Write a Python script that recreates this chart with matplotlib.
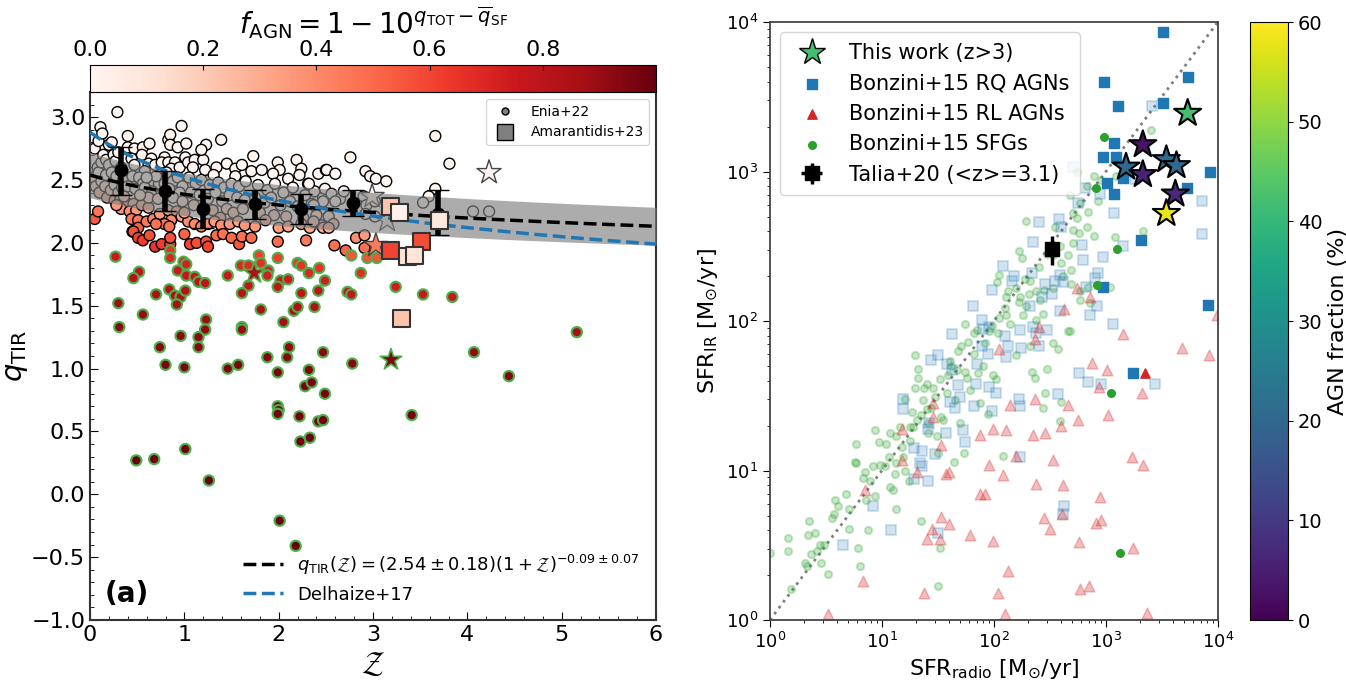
import numpy as np
import matplotlib.pyplot as plt
from matplotlib.lines import Line2D
from matplotlib.ticker import AutoMinorLocator, FuncFormatter

# ---------------- left panel: q_TIR vs redshift ----------------
# Enia+22 sources (redshift, q_TIR)
enia_z = [
    0.03, 0.05, 0.06, 0.08, 0.09, 0.09, 0.10, 0.11, 0.12, 0.12,
    0.13, 0.14, 0.16, 0.17, 0.17, 0.18, 0.20, 0.20, 0.22, 0.23,
    0.23, 0.25, 0.26, 0.26, 0.27, 0.28, 0.29, 0.30, 0.30, 0.33,
    0.35, 0.34,
    0.05, 0.085, 0.32, 0.37, 0.40, 0.46, 0.33, 0.42, 0.49, 0.44,
    0.51, 0.47, 0.45, 0.51, 0.60, 0.67, 0.74, 0.83, 0.92, 0.97,
    0.86, 0.79, 0.70, 0.84, 0.28, 0.36, 0.55, 0.62,
    0.40, 0.47, 0.56, 0.63, 0.40, 0.55, 0.44, 0.47, 0.65, 0.62,
    0.69, 0.58, 0.79, 0.76, 0.83, 0.90, 0.86, 0.81, 0.95, 0.83,
    0.85, 0.85, 0.93, 0.97, 0.45, 0.52, 0.56, 0.68, 0.73, 0.79,
    0.88, 0.93, 0.98, 0.40, 0.48, 0.58, 0.66, 0.76, 0.84, 0.95,
    0.62, 0.72, 0.88, 0.53, 0.98, 0.70, 0.60,
    1.01, 1.04, 1.11, 1.09, 1.02, 1.20, 1.22, 1.23, 1.18, 1.34,
    1.31, 1.39, 1.45, 1.54, 1.61, 1.54, 1.05, 1.12, 1.18, 1.27,
    1.36, 1.42, 1.50, 1.58, 1.65, 1.07, 1.16, 1.25, 1.33, 1.40,
    1.48, 1.56, 1.64, 1.10, 1.20, 1.30, 1.45, 1.52, 1.62, 1.38,
    1.04, 1.11, 1.18, 1.25, 1.32, 1.39, 1.48, 1.57, 1.64, 1.00,
    1.73, 1.71, 1.82, 1.99, 2.01, 1.94, 2.19, 2.24, 2.22, 2.10,
    2.31, 2.42, 2.50, 1.78, 1.88, 1.96, 2.05, 2.15, 2.28, 2.38,
    2.47, 1.75, 1.85, 1.92, 2.02, 2.12, 2.20, 2.35, 2.45, 1.80,
    1.95, 2.08, 2.26, 2.40, 1.75, 2.00, 2.10, 2.24, 2.33, 2.45,
    1.86,
    0.46, 0.51, 0.56, 0.63, 0.69, 0.76, 0.85, 0.85, 1.00, 1.06,
    1.13, 1.23, 1.25, 1.34, 1.41, 1.50, 1.58, 1.61, 1.71, 1.99,
    2.29, 2.59, 2.71, 2.82, 2.91, 2.91,
    2.76, 2.51, 2.60, 2.92, 2.97, 3.03, 3.14, 3.66, 3.81, 3.66,
    3.59, 3.53, 4.06, 4.23, 2.32, 2.49, 2.56, 2.65, 2.69, 2.60,
    2.47, 2.37, 2.90, 2.93, 3.02, 2.92, 2.53, 2.58, 2.47, 2.53,
    2.37, 3.02,
]
enia_q = [
    2.52, 2.75, 2.45, 2.60, 2.56, 2.81, 2.40, 2.92, 2.49, 2.64,
    2.87, 2.70, 2.45, 2.54, 2.66, 2.36, 2.62, 2.78, 2.42, 2.56,
    2.80, 2.70, 2.34, 2.46, 2.65, 2.53, 3.04, 2.40, 2.72, 2.60,
    2.50, 2.44,
    2.19, 2.25, 2.34, 2.33, 2.30, 2.31, 2.27, 2.25, 2.26, 2.19,
    2.18, 2.10, 2.09, 2.12, 2.17, 2.19, 2.23, 2.26, 2.25, 2.21,
    2.18, 2.15, 2.15, 2.13, 2.30, 2.37, 2.30, 2.28,
    2.76, 2.75, 2.76, 2.79, 2.85, 2.70, 2.67, 2.62, 2.67, 2.63,
    2.62, 2.57, 2.68, 2.64, 2.64, 2.64, 2.59, 2.56, 2.60, 2.82,
    2.86, 2.78, 2.76, 2.93, 2.53, 2.52, 2.47, 2.48, 2.47, 2.47,
    2.49, 2.52, 2.45, 2.45, 2.43, 2.44, 2.41, 2.39, 2.43, 2.40,
    2.36, 2.35, 2.36, 2.38, 2.33, 2.53, 2.52,
    2.68, 2.64, 2.66, 2.60, 2.79, 2.66, 2.58, 2.78, 2.74, 2.60,
    2.54, 2.82, 2.63, 2.59, 2.62, 2.53, 2.52, 2.47, 2.50, 2.46,
    2.48, 2.44, 2.47, 2.45, 2.49, 2.40, 2.38, 2.35, 2.40, 2.33,
    2.38, 2.36, 2.34, 2.30, 2.28, 2.26, 2.27, 2.24, 2.27, 2.20,
    2.17, 2.15, 2.13, 2.15, 2.17, 2.14, 2.15, 2.17, 2.14, 2.24,
    2.69, 2.57, 2.58, 2.64, 2.58, 2.55, 2.66, 2.59, 2.54, 2.51,
    2.47, 2.55, 2.58, 2.46, 2.42, 2.47, 2.40, 2.44, 2.38, 2.41,
    2.36, 2.36, 2.32, 2.36, 2.30, 2.33, 2.29, 2.31, 2.27, 2.24,
    2.22, 2.21, 2.20, 2.22, 2.13, 2.12, 2.13, 2.15, 2.12, 2.14,
    2.18,
    2.09, 2.04, 2.02, 2.06, 1.97, 1.99, 1.99, 2.04, 2.07, 1.99,
    2.00, 2.01, 1.97, 2.06, 2.07, 2.04, 1.99, 2.05, 2.04, 2.01,
    2.02, 1.98, 1.94, 2.04, 2.06, 1.96,
    2.68, 2.58, 2.55, 2.57, 2.53, 2.51, 2.49, 2.85, 2.63, 2.43,
    2.37, 2.32, 2.25, 2.25, 2.47, 2.43, 2.39, 2.35, 2.41, 2.33,
    2.33, 2.30, 2.37, 2.30, 2.21, 2.23, 2.21, 2.15, 2.12, 2.12,
    2.17, 2.33,
]

# radio-excess Enia+22 sources (green edges)
rex_z = [
    0.27, 0.85, 0.85, 0.52, 0.46, 0.99, 1.02, 0.93, 1.02, 1.11,
    1.15, 1.22, 1.46, 1.60, 1.68, 1.79, 1.81, 1.89, 1.88, 1.99,
    1.68, 1.61, 2.02, 2.10, 1.99, 2.20, 2.24, 2.32, 2.43, 2.49,
    2.24, 2.42, 2.73, 2.77, 2.87, 2.77, 2.94, 3.04, 0.84, 0.90,
    0.96, 1.01, 0.70, 0.30, 0.92, 0.56, 0.31, 1.23, 1.22, 1.15,
    0.96, 1.61, 1.61, 1.81, 2.05, 2.16, 2.20, 2.38, 0.74, 1.15,
    0.80, 1.00, 1.46, 1.57, 1.88, 1.99, 2.09, 2.11, 2.32, 2.47,
    2.78,
    3.24, 3.53, 3.84, 5.16, 4.07, 4.44, 3.41, 0.49, 0.68, 1.01,
    1.26, 1.99, 2.00, 1.99, 2.22, 2.42, 2.47, 2.23, 2.33, 2.49,
    2.28, 2.35, 2.01, 2.18,
]
rex_q = [
    1.89, 1.94, 1.88, 1.77, 1.72, 1.85, 1.83, 1.78, 1.74, 1.73,
    1.69, 1.68, 1.74, 1.82, 1.82, 1.90, 1.84, 1.78, 1.74, 1.88,
    1.66, 1.60, 1.70, 1.71, 1.65, 1.84, 1.82, 1.76, 1.80, 1.70,
    1.60, 1.62, 1.61, 1.59, 1.76, 1.90, 1.88, 1.88, 1.63, 1.58,
    1.57, 1.62, 1.59, 1.52, 1.51, 1.43, 1.33, 1.39, 1.31, 1.25,
    1.26, 1.33, 1.31, 1.47, 1.37, 1.46, 1.49, 1.49, 1.17, 1.17,
    1.03, 1.01, 1.00, 1.03, 1.09, 0.97, 1.09, 1.17, 0.99, 1.13,
    1.04,
    1.65, 1.59, 1.57, 1.29, 1.13, 0.94, 0.63, 0.27, 0.28, 0.36,
    0.11, 0.70, 0.67, 0.64, 0.62, 0.58, 0.59, 0.42, 0.45, 0.80,
    0.86, 0.89, -0.21, -0.41,
]

# binned medians
bin_z = [0.33, 0.79, 1.20, 1.75, 2.24, 2.79, 3.69]
bin_q = [2.58, 2.41, 2.27, 2.31, 2.27, 2.32, 2.23]
bin_lo = [0.20, 0.16, 0.15, 0.12, 0.12, 0.11, 0.17]
bin_hi = [0.18, 0.16, 0.16, 0.11, 0.12, 0.10, 0.19]

# Amarantidis+23
amar_z = [3.19, 3.28, 3.70, 3.18, 3.51, 3.37, 3.44, 3.30]
amar_q = [2.29, 2.24, 2.18, 1.94, 2.01, 1.89, 1.90, 1.40]
amar_f = [0.22, 0.03, 0.08, 0.60, 0.58, 0.10, 0.10, 0.22]

# this work (stars) on the left panel
star_z = [4.23, 2.99, 3.15, 3.03]
star_q = [2.56, 2.37, 2.18, 1.98]
star_f = [0.0, 0.0, 0.05, 0.45]
star_rex_z = [1.74, 3.19]
star_rex_q = [1.76, 1.07]
star_rex_f = [0.85, 0.95]

# ---------------- right panel: SFR_IR vs SFR_radio (log10) ----------------
star_lx = [3.73, 3.33, 3.18, 3.33, 3.54, 3.63, 3.62, 3.54]
star_ly = [3.39, 3.18, 3.03, 2.98, 3.08, 3.04, 2.85, 2.72]
star_agn = [42, 3, 20, 6, 20, 20, 7, 58]

rq_lx = [3.51, 2.98, 3.73, 3.11, 3.51, 3.07, 2.97, 3.09, 3.01, 3.07,
         3.15, 3.72, 3.93, 3.31, 2.97, 3.91, 3.24]
rq_ly = [3.93, 3.60, 3.63, 3.44, 3.46, 3.19, 3.10, 3.10, 2.92, 2.85,
         2.96, 2.89, 3.00, 2.54, 2.23, 2.11, 1.65]
rl_lx = [3.35]
rl_ly = [1.65]
sfg_lx = [2.98, 2.91, 3.10, 2.92, 3.05, 3.13]
sfg_ly = [3.23, 2.89, 2.48, 2.24, 1.52, 0.45]

sfg_faint_lx = [
    0.00, 0.16, 0.16, 0.19, 0.33, 0.34, 0.35, 0.31, 0.40, 0.37,
    0.42, 0.45, 0.46, 0.48, 0.52, 0.55, 0.57, 0.58, 0.61, 0.68,
    0.71, 0.71, 0.79, 0.80, 0.77, 0.77, 0.76, 0.83, 0.85, 0.86,
    0.88, 0.89, 0.92, 0.94, 0.94, 0.97, 0.98, 1.03, 1.04, 1.07,
    1.06, 1.07, 1.10, 1.12, 1.13, 1.13, 1.16, 1.18, 1.21, 1.19,
    1.21, 1.24, 1.25, 1.25, 1.27, 1.30, 1.30, 1.28, 1.31, 1.32,
    1.32, 1.35, 1.35, 1.37, 1.38, 1.40, 1.40, 1.41, 1.41, 1.44,
    1.46, 1.47, 1.49, 1.50, 1.52, 1.52, 1.53, 1.55, 1.58, 1.59,
    1.61, 1.62, 1.64, 1.65, 1.67, 1.68, 1.70, 1.71, 1.73, 1.74,
    1.74, 1.76, 1.77, 1.79, 1.82, 1.82, 1.85, 1.86, 1.88, 1.90,
    1.92, 1.95, 1.96, 1.98, 1.99, 2.02, 2.04, 2.05, 2.08, 2.10,
    2.11, 2.14, 2.20, 2.22, 2.26, 2.29, 2.32, 2.34, 2.37, 2.38,
    2.41, 2.44, 2.44, 2.46, 2.47, 2.53, 2.57, 2.60, 2.59, 2.66,
    1.50, 1.13,
    2.29, 2.55, 2.71, 2.77, 2.93, 2.84, 2.22, 2.25, 2.47, 2.53,
    2.60, 2.69, 2.71, 2.76, 2.83, 2.89, 2.71, 2.74, 2.66, 2.59,
    2.40, 2.28, 2.32, 2.20, 2.13, 2.05, 2.03, 2.11, 2.23, 2.31,
    2.38, 2.45, 2.53, 2.62, 2.69, 2.77, 2.84, 3.04, 3.08, 3.33,
    2.68, 2.77, 2.86,
    3.40, 2.74, 2.89, 2.96, 3.09, 2.83, 2.68,
]
sfg_faint_ly = [
    0.45, 0.55, 0.46, 0.21, 0.36, 0.57, 0.66, 0.38, 0.58, 0.44,
    0.46, 0.50, 0.38, 0.50, 0.31, 0.68, 0.71, 0.80, 0.76, 0.84,
    0.61, 0.74, 0.48, 0.36, 1.05, 1.18, 1.06, 0.95, 0.99, 0.80,
    0.60, 0.93, 1.03, 1.27, 0.83, 1.19, 1.04, 1.03, 1.18, 1.25,
    1.09, 0.89, 0.87, 0.98, 1.05, 1.23, 1.29, 1.16, 1.48, 1.09,
    1.00, 0.93, 1.29, 1.20, 1.39, 1.55, 1.77, 1.29, 1.34, 1.62,
    1.68, 1.37, 0.66, 1.47, 1.55, 1.58, 1.41, 1.32, 1.25, 1.42,
    1.55, 1.49, 1.23, 1.12, 0.48, 1.61, 1.36, 1.34, 1.52, 1.64,
    1.73, 1.70, 1.06, 1.47, 1.67, 1.80, 1.32, 1.83, 1.12, 1.66,
    1.98, 1.62, 1.86, 1.54, 1.92, 1.78, 1.94, 1.65, 1.45, 1.70,
    1.85, 1.38, 1.93, 1.97, 1.64, 1.61, 1.92, 2.02, 1.10, 2.09,
    2.04, 1.98, 1.77, 2.13, 2.04, 2.10, 1.83, 1.66, 1.62, 2.01,
    2.14, 1.42, 2.05, 1.52, 1.68, 1.85, 1.81, 1.46, 1.33, 1.93,
    0.23, 0.74,
    2.67, 2.63, 2.72, 2.79, 2.80, 2.73, 2.47, 2.42, 2.45, 2.44,
    2.39, 2.34, 2.52, 2.59, 2.63, 2.57, 2.61, 2.69, 2.44, 2.50,
    2.36, 2.28, 2.27, 2.22, 2.20, 2.31, 2.26, 2.16, 2.16, 2.18,
    2.20, 2.21, 2.22, 2.30, 2.25, 2.20, 2.23, 2.23, 2.56, 2.60,
    1.93, 2.14, 2.12,
    3.28, 3.00, 2.97, 2.94, 2.97, 2.90, 2.84,
]

rq_faint_lx = [
    0.65, 0.92, 1.08, 1.19, 1.19, 1.29, 1.29, 1.34, 1.36, 1.36,
    1.41, 1.41, 1.42, 1.44, 1.47, 1.50, 1.50, 1.57, 1.58, 1.61,
    1.63, 1.63, 1.65, 1.68, 1.70, 1.72, 1.74, 1.81, 1.82, 1.84,
    1.85, 1.89, 1.89, 1.90, 1.95, 1.96, 1.96, 1.98, 2.02, 2.10,
    2.11, 2.13, 2.22, 2.23, 2.23, 2.23, 2.24, 2.32, 2.35, 2.38,
    2.40, 2.47, 2.57, 2.59, 2.62, 2.63,
    2.75, 3.07, 3.15, 3.86, 3.86, 2.76, 2.84, 2.96, 3.44, 2.93,
    2.97, 2.92, 2.86, 3.06, 2.40, 2.58, 2.60, 2.35, 2.08, 2.18,
    2.16, 1.98, 2.34, 2.55, 2.59, 2.62, 2.46, 2.52, 2.43, 2.79,
    2.80, 2.90, 2.82,
    3.41, 2.71, 2.81, 2.95, 3.26,
]
rq_faint_ly = [
    0.50, 0.76, 0.60, 1.48, 1.41, 0.94, 1.15, 1.05, 1.03, 1.13,
    0.93, 1.28, 1.32, 1.74, 1.11, 1.77, 0.58, 1.25, 1.71, 1.46,
    1.91, 1.67, 1.42, 1.57, 1.49, 1.27, 1.19, 2.10, 1.43, 1.58,
    1.71, 2.01, 1.83, 1.95, 1.78, 1.96, 1.56, 1.40, 1.52, 1.90,
    1.76, 1.83, 1.48, 1.43, 1.09, 1.94, 1.82, 2.10, 1.96, 1.92,
    1.83, 1.94, 1.51, 2.07, 0.71, 0.76,
    2.79, 2.72, 2.50, 2.80, 2.58, 1.65, 1.59, 1.58, 1.58, 2.32,
    2.43, 2.10, 2.04, 1.98, 2.66, 2.68, 2.63, 2.53, 2.37, 2.30,
    2.27, 2.21, 2.32, 2.27, 2.31, 2.26, 2.25, 2.18, 2.16, 2.51,
    2.41, 2.29, 2.23,
    3.44, 3.03, 2.89, 2.85, 2.95,
]

rl_faint_lx = [
    0.52, 0.83, 0.85, 1.18, 1.18, 1.31, 1.38, 1.40, 1.45, 1.46,
    1.46, 1.52, 1.53, 1.53, 1.57, 1.60, 1.60, 1.79, 1.88, 1.92,
    1.88, 1.96, 1.99, 1.99, 2.04, 2.05, 2.08, 2.10, 2.11, 2.13,
    2.14, 2.20, 2.35, 2.37, 2.38, 2.40, 2.37, 2.45, 2.46, 2.50,
    2.53, 2.60, 2.61, 2.62, 2.63, 2.66, 2.74, 2.86, 3.15, 3.68,
    3.92, 3.99, 2.88, 3.01, 2.94, 3.32, 3.02, 2.75, 3.23, 3.33,
    2.95, 2.96, 2.91, 2.76, 2.77, 2.85, 3.24, 3.37,
]
rl_faint_ly = [
    0.04, 0.26, 0.87, 1.28, 1.07, 0.99, 0.18, 0.54, 0.61, 1.45,
    1.36, 0.54, 1.17, 0.69, 0.98, 0.99, 0.64, 0.57, 0.84, 0.84,
    1.24, 1.04, 0.53, 1.28, 0.18, 1.81, 0.97, 0.04, 1.27, 0.33,
    1.44, 1.10, 1.24, 1.48, 0.91, 1.96, 1.88, 0.68, 1.25, 0.61,
    1.07, 1.30, 0.71, 0.90, 2.08, 1.44, 2.22, 2.16, 1.91, 1.82,
    1.77, 2.04, 1.72, 1.67, 1.56, 1.52, 1.37, 1.34, 1.09, 1.04,
    0.82, 0.67, 0.65, 0.52, 0.21, 0.23, 0.48, 0.05,
]

# Talia+20 stacked point
talia_x = [331]
talia_y = [302]
talia_yerr = [[65], [70]]
talia_xerr = [[20], [20]]


def f_agn(z, q):
    # colour from the offset below the star-forming relation
    q_sf = 2.54 * (1 + np.asarray(z)) ** -0.09
    return np.clip(1 - 10 ** (np.asarray(q) - q_sf), 0, 1)


fig = plt.figure(figsize=(13.46, 6.8), dpi=100)

# ---------------- left panel ----------------
ax1 = fig.add_axes([0.0669, 0.0882, 0.4205, 0.7765])
cax1 = fig.add_axes([0.0669, 0.8647, 0.4205, 0.0397])

sc = ax1.scatter(enia_z, enia_q, c=f_agn(enia_z, enia_q), cmap='Reds', vmin=0, vmax=1,
                 s=62, edgecolors='k', linewidths=1, zorder=2)
ax1.scatter(rex_z, rex_q, c=f_agn(rex_z, rex_q), cmap='Reds', vmin=0, vmax=1,
            s=55, edgecolors='#4daf4a', linewidths=1.5, zorder=2)
ax1.scatter(star_z, star_q, c=star_f, cmap='Reds', vmin=0, vmax=1, marker='*',
            s=330, edgecolors='#444444', linewidths=1, zorder=2.5)
ax1.scatter(star_rex_z, star_rex_q, c=star_rex_f, cmap='Reds', vmin=0, vmax=1, marker='*',
            s=260, edgecolors='#4daf4a', linewidths=1.2, zorder=2.5)

zz = np.linspace(0, 6, 200)
fit = 2.54 * (1 + zz) ** -0.09
ax1.fill_between(zz, (2.54 - 0.18) * (1 + zz) ** -0.09, (2.54 + 0.18) * (1 + zz) ** -0.09,
                 color='grey', alpha=0.65, lw=0, zorder=3)
l_fit, = ax1.plot(zz, fit, '--', color='k', lw=2.5, zorder=4,
                  label=r'$q_{\rm TIR}(\mathcal{Z}) = (2.54 \pm 0.18)(1 + \mathcal{Z})^{-0.09 \pm 0.07}$')
l_del, = ax1.plot(zz, 2.88 * (1 + zz) ** -0.19, '--', color='#1f77b4', lw=2.5, zorder=4,
                  label='Delhaize+17')

ax1.errorbar(bin_z, bin_q, yerr=[bin_lo, bin_hi], fmt='o', color='k', ms=9,
             elinewidth=4, capsize=8, capthick=1, zorder=6)
ax1.scatter(amar_z, amar_q, c=amar_f, cmap='Reds', vmin=0, vmax=1, marker='s',
            s=150, edgecolors='#333333', linewidths=1.5, zorder=7)

ax1.set_xlim(0, 6)
ax1.set_ylim(-1.0, 3.2)
ax1.set_xticks([0, 1, 2, 3, 4, 5, 6])
ax1.set_yticks(np.arange(-1.0, 3.01, 0.5))
ax1.yaxis.set_major_formatter(FuncFormatter(lambda v, p: f'{v:.1f}'.replace('-', '\u2212')))
ax1.xaxis.set_minor_locator(AutoMinorLocator(5))
ax1.yaxis.set_minor_locator(AutoMinorLocator(5))
ax1.tick_params(which='both', direction='in', labelsize=16)
ax1.tick_params(which='major', length=6)
ax1.tick_params(which='minor', length=3)
ax1.set_xlabel(r'$\mathcal{Z}$', fontsize=22)
ax1.set_ylabel(r'$q_{\rm TIR}$', fontsize=21, labelpad=1)
for sp in ax1.spines.values():
    sp.set_linewidth(1.5)
    sp.set_color('#333333')

h_enia = Line2D([], [], marker='o', ls='none', ms=5, mfc='grey', mec='k', label='Enia+22')
h_amar = Line2D([], [], marker='s', ls='none', ms=12, mfc='grey', mec='k', label='Amarantidis+23')
leg1 = ax1.legend(handles=[h_enia, h_amar], loc='upper right', fontsize=10)
ax1.add_artist(leg1)
ax1.legend(handles=[l_fit, l_del], loc='lower right', frameon=False, fontsize=13,
           handlelength=2.2)
ax1.text(0.025, 0.035, '(a)', transform=ax1.transAxes, fontsize=20, fontweight='bold')

cb1 = fig.colorbar(sc, cax=cax1, orientation='horizontal')
cax1.xaxis.set_ticks_position('top')
cax1.xaxis.set_label_position('top')
cb1.set_ticks([0.0, 0.2, 0.4, 0.6, 0.8])
cb1.ax.tick_params(labelsize=16, direction='in')
cb1.set_label(r'$f_{\rm AGN} = 1 - 10^{q_{\rm TOT} - \overline{q}_{\rm SF}}$', fontsize=20)

# ---------------- right panel ----------------
ax2 = fig.add_axes([0.572, 0.0882, 0.3328, 0.8794])
cax2 = fig.add_axes([0.9287, 0.0882, 0.0282, 0.8794])

p10 = lambda v: 10 ** np.asarray(v)

ax2.plot([1, 1e4], [1, 1e4], ':', color='grey', lw=2, zorder=1)
ax2.scatter(p10(sfg_faint_lx), p10(sfg_faint_ly), s=28, color='#2ca02c', alpha=0.25,
            linewidths=1.5, zorder=2)
ax2.scatter(p10(rq_faint_lx), p10(rq_faint_ly), s=60, marker='s', color='#1f77b4',
            alpha=0.2, linewidths=1.5, zorder=2)
ax2.scatter(p10(rl_faint_lx), p10(rl_faint_ly), s=60, marker='^', color='#d62728',
            alpha=0.3, linewidths=1, zorder=2)
h_rq = ax2.scatter(p10(rq_lx), p10(rq_ly), s=45, marker='s', color='#1f77b4', zorder=3,
                   label='Bonzini+15 RQ AGNs')
h_rl = ax2.scatter(p10(rl_lx), p10(rl_ly), s=45, marker='^', color='#d62728', zorder=3,
                   label='Bonzini+15 RL AGNs')
h_sfg = ax2.scatter(p10(sfg_lx), p10(sfg_ly), s=30, color='#2ca02c', zorder=3,
                    label='Bonzini+15 SFGs')
h_tal = ax2.errorbar(talia_x, talia_y, xerr=talia_xerr, yerr=talia_yerr, fmt='s', color='k',
                     ms=10, elinewidth=2.5, zorder=5, label='Talia+20 (<z>=3.1)')
sc2 = ax2.scatter(p10(star_lx), p10(star_ly), c=star_agn, cmap='viridis', vmin=0, vmax=60,
                  marker='*', s=420, edgecolors='k', linewidths=1.5, zorder=10)

h_star = Line2D([], [], marker='*', ls='none', ms=20, mfc=plt.cm.viridis(0.7), mec='k',
                label='This work (z>3)')

ax2.set_xscale('log')
ax2.set_yscale('log')
ax2.set_xlim(1, 1e4)
ax2.set_ylim(1, 1e4)
ax2.tick_params(which='major', labelsize=13, length=5)
ax2.set_xlabel(r'SFR$_{\rm radio}$ [M$_{\odot}$/yr]', fontsize=16)
ax2.set_ylabel(r'SFR$_{\rm IR}$ [M$_{\odot}$/yr]', fontsize=16)
for sp in ax2.spines.values():
    sp.set_linewidth(1.3)
    sp.set_color('#444444')
ax2.legend(handles=[h_star, h_rq, h_rl, h_sfg, h_tal], loc='upper left', fontsize=15,
           handletextpad=0.8, borderpad=0.5)

cb2 = fig.colorbar(sc2, cax=cax2)
cb2.set_ticks([0, 10, 20, 30, 40, 50, 60])
cb2.ax.tick_params(labelsize=14)
cb2.set_label('AGN fraction (%)', fontsize=16)

fig.savefig('out.png', dpi=100)
